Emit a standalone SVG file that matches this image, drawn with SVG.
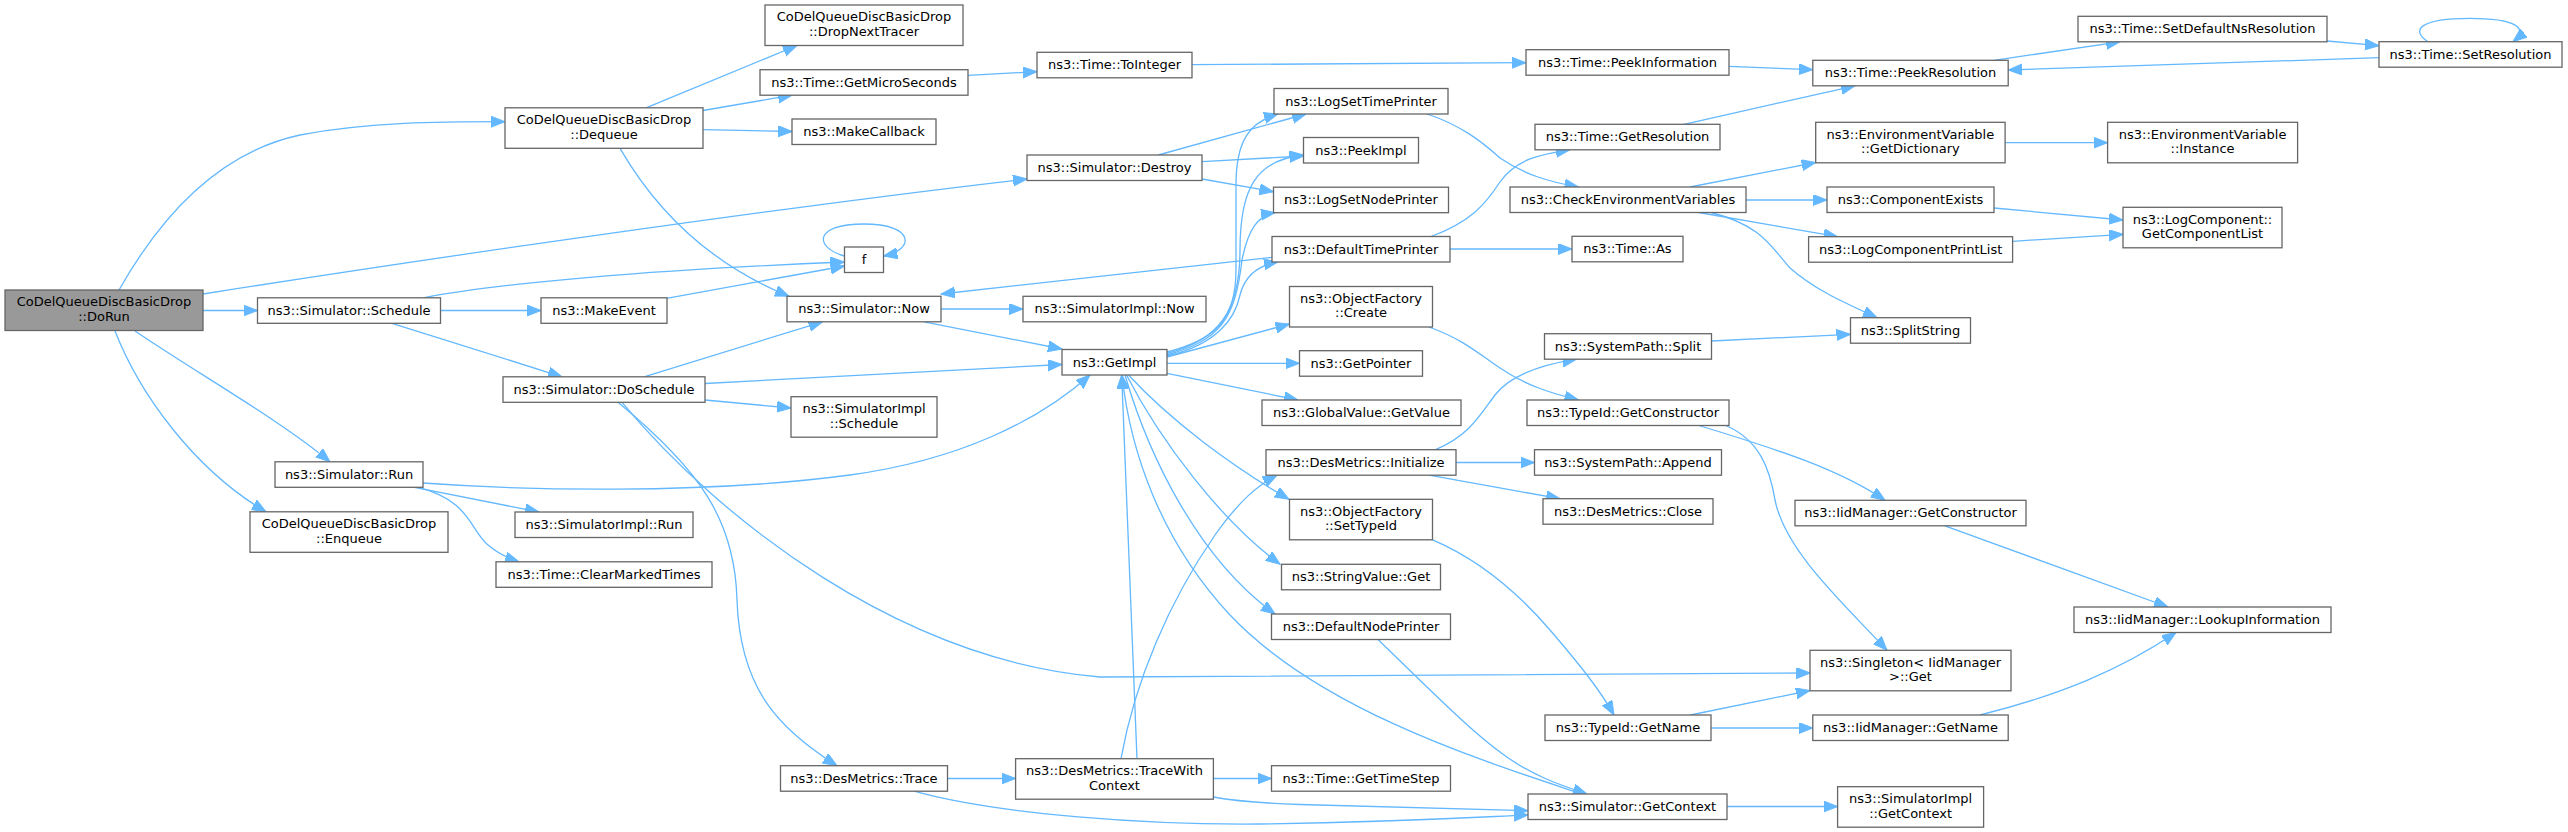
<svg xmlns="http://www.w3.org/2000/svg" width="2568" height="832" viewBox="0 0 2568 832">
<style>
.n rect{fill:#ffffff;stroke:#666666;stroke-width:1.3}
.n text{font-family:"DejaVu Sans","Liberation Sans",sans-serif;font-size:13px;text-anchor:middle;fill:#000000}
#n1 rect{fill:#999999}
.e path{fill:none;stroke:#63b8ff;stroke-width:1.3;marker-end:url(#a)}
</style>
<defs>
<marker id="a" markerUnits="userSpaceOnUse" markerWidth="15" markerHeight="12" refX="14" refY="5.5" orient="auto"><path d="M0,0 L14,5.5 L0,11 z" fill="#63b8ff" stroke="#63b8ff" stroke-width="1"/></marker>
</defs>
<rect x="0" y="0" width="2568" height="832" fill="#ffffff"/>
<g id="edges" class="e">
<path d="M119,290 C170,200 230,150 300,135 C370,122 440,121.7 505,121.7"/>
<path d="M203,294 C450,255 800,205 1027,179"/>
<path d="M203,310.5 L257.5,310.5"/>
<path d="M135,331 C200,375 280,420 330,461.8"/>
<path d="M115,331 C140,395 195,470 266,511.8"/>
<path d="M440.5,310.5 L541,310.5"/>
<path d="M423,297.8 C500,283 650,270 844.5,262"/>
<path d="M666.5,298.3 L844.5,266"/>
<path d="M392,323.3 L562,376.8"/>
<path d="M646,107.8 L797,45.5"/>
<path d="M703,110.5 L792,95.2"/>
<path d="M703,129.7 L792,131.5"/>
<path d="M620,148.3 C650,200 700,260 789,296.3"/>
<path d="M644,376.8 L822.5,321.8"/>
<path d="M705,383.5 L1062,364.5"/>
<path d="M705,400 L791,408"/>
<path d="M618,402.3 C700,470 735,520 737,600 C740,690 780,730 837,765.7"/>
<path d="M622,402.3 C720,520 900,660 1100,677 L1810,673"/>
<path d="M423,483 C520,490 700,495 850,475 C960,460 1040,420 1090,375"/>
<path d="M414.5,487.3 L539,512"/>
<path d="M418,487.3 C470,500 470,530 488,545 C500,555 510,559 519,561.8"/>
<path d="M941,309 L1023,309"/>
<path d="M924,321.8 L1062,349"/>
<path d="M1272,257.3 L941,294"/>
<path d="M968,75.3 L1037,71.7"/>
<path d="M1192,64.7 L1526,62.7"/>
<path d="M1729,66.3 L1812.8,69.7"/>
<path d="M1684,124.3 L1855,85.8"/>
<path d="M1994,60.3 L2120,41.8"/>
<path d="M2327,41 L2379,45.7"/>
<path d="M2379,57.7 L2008.2,70"/>
<path d="M2428,41.7 C2410,30 2420,18.3 2470,18.3 C2515,18.3 2530,28 2513,41.7"/>
<path d="M844.5,256 C815,248 812,224 864,224 C915,224 915,250 883.5,256"/>
<path d="M1158.3,155 L1306,114"/>
<path d="M1202,161.7 L1303.5,156"/>
<path d="M1202,179 L1273.5,191.7"/>
<path d="M1167,352 C1215,340 1236,320 1236,270 L1236,185 C1236,140 1250,122 1278,114"/>
<path d="M1167,353.5 C1220,340 1240,310 1240,250 C1240,190 1255,160 1303.5,155"/>
<path d="M1167,355 C1220,340 1235,320 1242,260 C1248,230 1258,215 1275,212.7"/>
<path d="M1167,356 C1215,345 1235,320 1240,295 C1245,275 1260,265 1278,262"/>
<path d="M1167,357 L1289.5,324"/>
<path d="M1167,363.3 L1299.5,363.3"/>
<path d="M1167,373.3 L1298,400"/>
<path d="M1128.5,375 C1170,420 1230,465 1289,499.3"/>
<path d="M1126.5,375 C1160,440 1220,520 1280,564.3"/>
<path d="M1125,375 C1150,460 1200,560 1275,614"/>
<path d="M1582,794 C1480,760 1320,710 1230,615 C1160,540 1130,450 1122,375"/>
<path d="M1137,758.7 L1121.7,375"/>
<path d="M1121,758.7 C1135,680 1170,600 1215,535 C1240,500 1258,485 1277,475.2"/>
<path d="M1378,639.5 C1430,690 1470,730 1500,752 C1530,775 1560,785 1587,794"/>
<path d="M947.5,778.5 L1015.6,778.5"/>
<path d="M914,791.2 C1000,815 1150,825 1260,824 C1400,822 1480,817 1528,815"/>
<path d="M1213.4,797 C1240,802 1270,803.5 1300,804.5 C1400,807 1470,809 1528,810.7"/>
<path d="M1213.4,778.5 L1271.5,778.5"/>
<path d="M1727,806.5 L1837.6,806.5"/>
<path d="M1450,249 L1572,249"/>
<path d="M1431,236.5 C1470,222 1485,205 1500,182 C1515,160 1540,154 1570,149.8"/>
<path d="M1427,114 C1460,125 1480,140 1500,158 C1525,175 1550,182 1578.5,187"/>
<path d="M1690,187 L1815.7,162.5"/>
<path d="M1746,200 L1827,200"/>
<path d="M1698.7,212.5 L1837.6,236.7"/>
<path d="M1711,212.5 C1760,225 1770,245 1790,268 C1815,290 1845,303 1877,317.7"/>
<path d="M1711.5,341 L1850.5,334.3"/>
<path d="M2005,142.7 L2107.6,142.7"/>
<path d="M1994,208 L2123,220"/>
<path d="M2012.6,241.3 L2123,234.3"/>
<path d="M1429,327 C1465,340 1480,355 1500,368 C1525,385 1550,393 1578.5,400"/>
<path d="M1435.5,449.7 C1470,435 1480,415 1495,395 C1510,375 1540,365 1576.5,359.2"/>
<path d="M1456,462.5 L1534.5,462.5"/>
<path d="M1429,475.2 L1560,498.7"/>
<path d="M1432.6,539.8 C1480,560 1520,595 1550,630 C1580,665 1600,690 1614,715"/>
<path d="M1698.7,425.5 C1780,450 1840,470 1885,500.3"/>
<path d="M1725.7,425.5 C1760,440 1770,470 1775,500 C1785,550 1840,600 1887,650.3"/>
<path d="M1690.5,715 L1810,690.5"/>
<path d="M1711,728 L1812.8,728"/>
<path d="M1945,525.8 L2168,607"/>
<path d="M1980,715 C2060,695 2120,670 2176,632.5"/>
</g>
<g id="n1" class="n"><rect x="5" y="290" width="198" height="40.5"/><text x="104" y="306.3">CoDelQueueDiscBasicDrop</text><text x="104" y="320.8">::DoRun</text></g>
<g id="n2" class="n"><rect x="257.5" y="297.8" width="183" height="25.5"/><text x="349" y="314.8">ns3::Simulator::Schedule</text></g>
<g id="n3" class="n"><rect x="275" y="461.8" width="148" height="25.5"/><text x="349" y="478.8">ns3::Simulator::Run</text></g>
<g id="n4" class="n"><rect x="250" y="511.8" width="198" height="40.5"/><text x="349" y="528.1">CoDelQueueDiscBasicDrop</text><text x="349" y="542.6">::Enqueue</text></g>
<g id="n5" class="n"><rect x="505" y="107.8" width="198" height="40.5"/><text x="604" y="124.1">CoDelQueueDiscBasicDrop</text><text x="604" y="138.6">::Dequeue</text></g>
<g id="n6" class="n"><rect x="541" y="297.8" width="126" height="25.5"/><text x="604" y="314.8">ns3::MakeEvent</text></g>
<g id="n7" class="n"><rect x="503" y="376.8" width="202" height="25.5"/><text x="604" y="393.8">ns3::Simulator::DoSchedule</text></g>
<g id="n8" class="n"><rect x="515" y="512" width="178" height="25.5"/><text x="604" y="529">ns3::SimulatorImpl::Run</text></g>
<g id="n9" class="n"><rect x="496" y="561.8" width="216" height="25.5"/><text x="604" y="578.8">ns3::Time::ClearMarkedTimes</text></g>
<g id="n10" class="n"><rect x="765" y="5" width="198" height="40.5"/><text x="864" y="21.3">CoDelQueueDiscBasicDrop</text><text x="864" y="35.8">::DropNextTracer</text></g>
<g id="n11" class="n"><rect x="760" y="69.7" width="208" height="25.5"/><text x="864" y="86.7">ns3::Time::GetMicroSeconds</text></g>
<g id="n12" class="n"><rect x="792" y="119" width="144" height="25.5"/><text x="864" y="136">ns3::MakeCallback</text></g>
<g id="n13" class="n"><rect x="844.5" y="247" width="39" height="25.5"/><text x="864" y="264">f</text></g>
<g id="n14" class="n"><rect x="787" y="296.3" width="154" height="25.5"/><text x="864" y="313.3">ns3::Simulator::Now</text></g>
<g id="n15" class="n"><rect x="791" y="396.7" width="146" height="40.5"/><text x="864" y="413">ns3::SimulatorImpl</text><text x="864" y="427.5">::Schedule</text></g>
<g id="n16" class="n"><rect x="780.5" y="765.7" width="167" height="25.5"/><text x="864" y="782.7">ns3::DesMetrics::Trace</text></g>
<g id="n17" class="n"><rect x="1037" y="52.3" width="155" height="25.5"/><text x="1114.5" y="69.3">ns3::Time::ToInteger</text></g>
<g id="n18" class="n"><rect x="1027" y="155" width="175" height="25.5"/><text x="1114.5" y="172">ns3::Simulator::Destroy</text></g>
<g id="n19" class="n"><rect x="1023" y="296.3" width="183" height="25.5"/><text x="1114.5" y="313.3">ns3::SimulatorImpl::Now</text></g>
<g id="n20" class="n"><rect x="1062" y="349.5" width="105" height="25.5"/><text x="1114.5" y="366.5">ns3::GetImpl</text></g>
<g id="n21" class="n"><rect x="1015.6" y="758.7" width="197.8" height="40.5"/><text x="1114.5" y="775">ns3::DesMetrics::TraceWith</text><text x="1114.5" y="789.5">Context</text></g>
<g id="n22" class="n"><rect x="1274" y="88.5" width="174" height="25.5"/><text x="1361" y="105.5">ns3::LogSetTimePrinter</text></g>
<g id="n23" class="n"><rect x="1303.5" y="137.5" width="115" height="25.5"/><text x="1361" y="154.5">ns3::PeekImpl</text></g>
<g id="n24" class="n"><rect x="1273.5" y="187.2" width="175" height="25.5"/><text x="1361" y="204.2">ns3::LogSetNodePrinter</text></g>
<g id="n25" class="n"><rect x="1272" y="236.5" width="178" height="25.5"/><text x="1361" y="253.5">ns3::DefaultTimePrinter</text></g>
<g id="n26" class="n"><rect x="1289.5" y="286.5" width="143" height="40.5"/><text x="1361" y="302.8">ns3::ObjectFactory</text><text x="1361" y="317.3">::Create</text></g>
<g id="n27" class="n"><rect x="1299.5" y="350.7" width="123" height="25.5"/><text x="1361" y="367.7">ns3::GetPointer</text></g>
<g id="n28" class="n"><rect x="1262" y="400" width="199" height="25.5"/><text x="1361.5" y="417">ns3::GlobalValue::GetValue</text></g>
<g id="n29" class="n"><rect x="1266" y="449.7" width="190" height="25.5"/><text x="1361" y="466.7">ns3::DesMetrics::Initialize</text></g>
<g id="n30" class="n"><rect x="1289.5" y="499.3" width="143" height="40.5"/><text x="1361" y="515.6">ns3::ObjectFactory</text><text x="1361" y="530.1">::SetTypeId</text></g>
<g id="n31" class="n"><rect x="1281.5" y="564.3" width="159" height="25.5"/><text x="1361" y="581.3">ns3::StringValue::Get</text></g>
<g id="n32" class="n"><rect x="1271.5" y="614" width="179" height="25.5"/><text x="1361" y="631">ns3::DefaultNodePrinter</text></g>
<g id="n33" class="n"><rect x="1271.5" y="765.7" width="179" height="25.5"/><text x="1361" y="782.7">ns3::Time::GetTimeStep</text></g>
<g id="n34" class="n"><rect x="1526" y="49.7" width="203" height="25.5"/><text x="1627.5" y="66.7">ns3::Time::PeekInformation</text></g>
<g id="n35" class="n"><rect x="1535" y="124.3" width="185" height="25.5"/><text x="1627.5" y="141.3">ns3::Time::GetResolution</text></g>
<g id="n36" class="n"><rect x="1510" y="187" width="236" height="25.5"/><text x="1628" y="204">ns3::CheckEnvironmentVariables</text></g>
<g id="n37" class="n"><rect x="1572" y="236.3" width="111" height="25.5"/><text x="1627.5" y="253.3">ns3::Time::As</text></g>
<g id="n38" class="n"><rect x="1544.5" y="333.7" width="167" height="25.5"/><text x="1628" y="350.7">ns3::SystemPath::Split</text></g>
<g id="n39" class="n"><rect x="1527" y="400" width="202" height="25.5"/><text x="1628" y="417">ns3::TypeId::GetConstructor</text></g>
<g id="n40" class="n"><rect x="1534.5" y="449.7" width="187" height="25.5"/><text x="1628" y="466.7">ns3::SystemPath::Append</text></g>
<g id="n41" class="n"><rect x="1543" y="498.7" width="170" height="25.5"/><text x="1628" y="515.7">ns3::DesMetrics::Close</text></g>
<g id="n42" class="n"><rect x="1545" y="715" width="166" height="25.5"/><text x="1628" y="732">ns3::TypeId::GetName</text></g>
<g id="n43" class="n"><rect x="1528" y="794" width="199" height="25.5"/><text x="1627.5" y="811">ns3::Simulator::GetContext</text></g>
<g id="n44" class="n"><rect x="1812.8" y="60.3" width="195.4" height="25.5"/><text x="1910.5" y="77.3">ns3::Time::PeekResolution</text></g>
<g id="n45" class="n"><rect x="1815.7" y="122.3" width="189.4" height="40.5"/><text x="1910.4" y="138.6">ns3::EnvironmentVariable</text><text x="1910.4" y="153.1">::GetDictionary</text></g>
<g id="n46" class="n"><rect x="1827" y="187" width="167" height="25.5"/><text x="1910.5" y="204">ns3::ComponentExists</text></g>
<g id="n47" class="n"><rect x="1808.6" y="236.7" width="204" height="25.5"/><text x="1910.6" y="253.7">ns3::LogComponentPrintList</text></g>
<g id="n48" class="n"><rect x="1850.5" y="317.7" width="120" height="25.5"/><text x="1910.5" y="334.7">ns3::SplitString</text></g>
<g id="n49" class="n"><rect x="1795" y="500.3" width="231" height="25.5"/><text x="1910.5" y="517.3">ns3::IidManager::GetConstructor</text></g>
<g id="n50" class="n"><rect x="1810" y="650.3" width="201" height="40.5"/><text x="1910.5" y="666.6">ns3::Singleton&lt; IidManager</text><text x="1910.5" y="681.1">&gt;::Get</text></g>
<g id="n51" class="n"><rect x="1812.8" y="715" width="195.4" height="25.5"/><text x="1910.5" y="732">ns3::IidManager::GetName</text></g>
<g id="n52" class="n"><rect x="1837.6" y="786.7" width="146" height="40.5"/><text x="1910.6" y="803">ns3::SimulatorImpl</text><text x="1910.6" y="817.5">::GetContext</text></g>
<g id="n53" class="n"><rect x="2078" y="16.3" width="249" height="25.5"/><text x="2202.5" y="33.3">ns3::Time::SetDefaultNsResolution</text></g>
<g id="n54" class="n"><rect x="2107.6" y="122.3" width="190" height="40.5"/><text x="2202.6" y="138.6">ns3::EnvironmentVariable</text><text x="2202.6" y="153.1">::Instance</text></g>
<g id="n55" class="n"><rect x="2123" y="207.3" width="159" height="40.5"/><text x="2202.5" y="223.6">ns3::LogComponent::</text><text x="2202.5" y="238.1">GetComponentList</text></g>
<g id="n56" class="n"><rect x="2074" y="607" width="257" height="25.5"/><text x="2202.5" y="624">ns3::IidManager::LookupInformation</text></g>
<g id="n57" class="n"><rect x="2379" y="41.7" width="183" height="25.5"/><text x="2470.5" y="58.7">ns3::Time::SetResolution</text></g>
</svg>
